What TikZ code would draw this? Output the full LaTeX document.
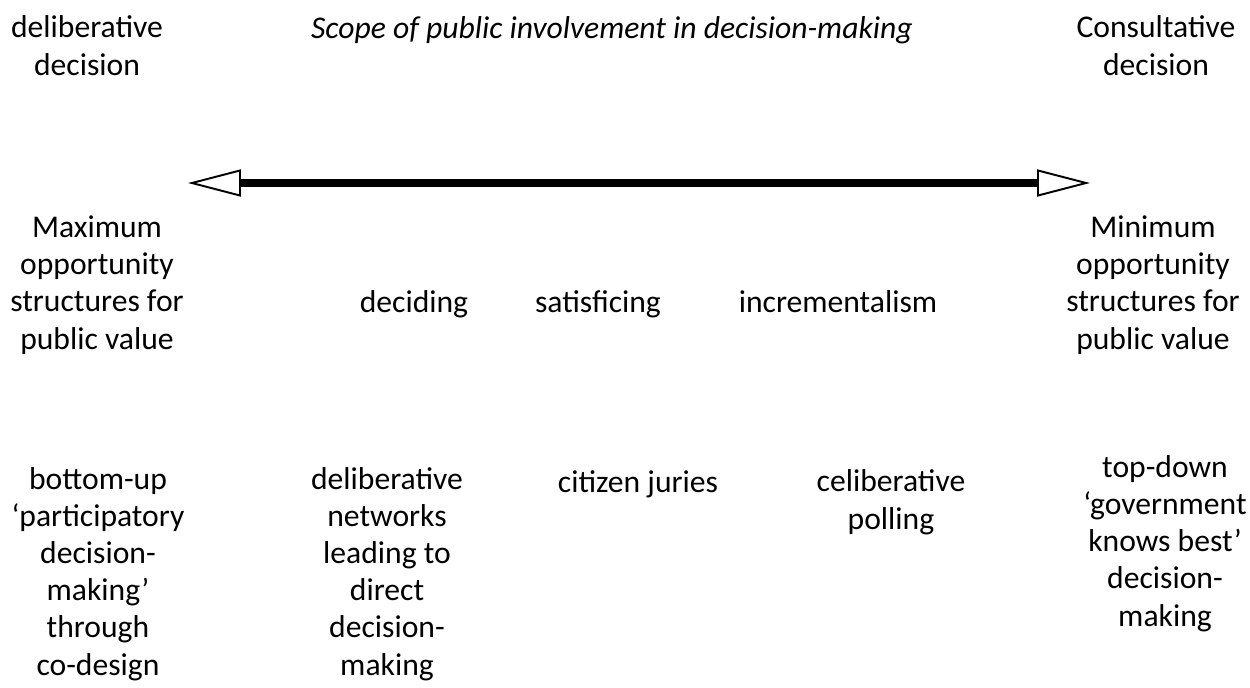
\documentclass[tikz,border=0pt]{standalone}
\usepackage{fontspec}
\setmainfont{Carlito}
\usepackage{tikz}
\usetikzlibrary{arrows.meta}

\begin{document}
\begin{tikzpicture}[x=0.02cm, y=-0.02cm,
    % Base style for all labels (anchored at the baseline of the last line)
    label/.style={align=center, inner sep=0pt, anchor=base, font=\fontsize{18}{21.1}\selectfont},
    % Title over the scale
    scopetitle/.style={label, font=\fontsize{18}{21.1}\selectfont\itshape},
    % Double headed scale arrow
    spanarrow/.style={line width=4pt,
        {Triangle[open, length=1.06cm, width=0.54cm, line width=1.1pt]}-{Triangle[open, length=1.06cm, width=0.54cm, line width=1.1pt]}}
]
\useasboundingbox (0,0) rectangle (1250,687);

% Top row
\node[label] (delibdec) at (87,75) {deliberative\\decision};
\node[scopetitle] (scope) at (612,38) {Scope of public involvement in decision-making};
\node[label] (consultdec) at (1156,75) {Consultative\\decision};

% Scale arrow
\coordinate (leftend) at (188,183);
\coordinate (rightend) at (1090,183);
\draw[spanarrow] (leftend) -- (rightend);

% Middle row
\node[label] (maxopp) at (97,349) {Maximum\\opportunity\\structures for\\public value};
\node[label] (deciding) at (414,312) {deciding};
\node[label] (satisficing) at (598,312) {satisficing};
\node[label] (incremental) at (838,312) {incrementalism};
\node[label] (minopp) at (1153,349) {Minimum\\opportunity\\structures for\\public value};

% Bottom row
\node[label] (bottomup) at (98,675) {bottom-up\\‘participatory\\decision-\\making’\\through\\co-design};
\node[label] (delibnet) at (387,675) {deliberative\\networks\\leading to\\direct\\decision-\\making};
\node[label] (juries) at (638,492) {citizen juries};
\node[label] (polling) at (891,529) {celiberative\\polling};
\node[label] (topdown) at (1165,626) {top-down\\‘government\\knows best’\\decision-\\making};

\end{tikzpicture}
\end{document}
